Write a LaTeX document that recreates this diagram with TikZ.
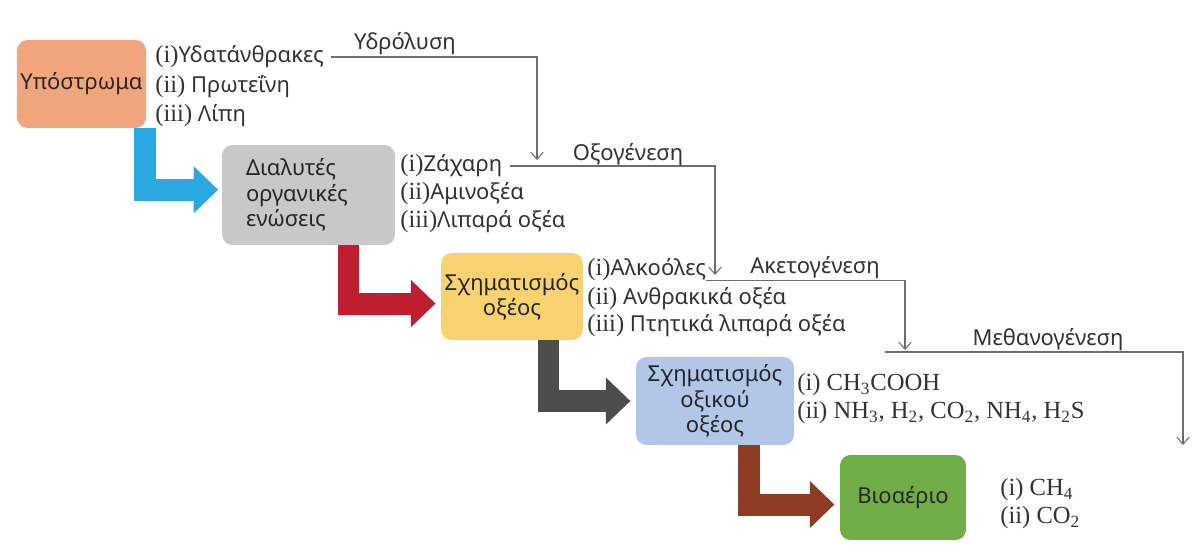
\documentclass[tikz,border=0pt]{standalone}
\usepackage{fontspec}
\setmainfont{Liberation Serif}
\newfontfamily\grf{Noto Sans}
\usetikzlibrary{arrows.meta,calc}
\definecolor{cSub}{RGB}{240,165,125}
\definecolor{cDis}{RGB}{200,200,200}
\definecolor{cAcid}{RGB}{248,210,110}
\definecolor{cAcet}{RGB}{178,198,232}
\definecolor{cBio}{RGB}{112,173,71}
\definecolor{aBlue}{RGB}{41,169,224}
\definecolor{aRed}{RGB}{190,30,45}
\definecolor{aGray}{RGB}{77,77,77}
\definecolor{aBrown}{RGB}{139,60,35}
\definecolor{lineC}{RGB}{110,110,110}
\newcommand\nm[1]{{\rmfamily\fontsize{14}{15}\selectfont(#1)}}
\begin{document}
\begin{tikzpicture}[x=0.02cm,y=-0.02cm,
  font=\grf\fontsize{12.5}{14.5}\selectfont,
  stage/.style={rounded corners=6pt, inner sep=2pt, align=center, text=black!85},
  item/.style={anchor=west, inner sep=0pt, text=black!80},
  chem/.style={item, font=\rmfamily\fontsize{14}{15}\selectfont},
  bigarrow/.style={line width=12.5pt, line join=miter, line cap=butt,
    -{Triangle[width=26pt,length=14pt]}},
  flow/.style={draw=lineC, line width=0.6pt, -{Straight Barb[length=4pt,width=7pt]}},
  lbl/.style={inner sep=0pt, text=black!80}]
\useasboundingbox (0,0) rectangle (1201,555);
\fill[white] (0,0) rectangle (1201,555);

% process stages
\node[stage, fill=cSub, minimum width=2.54cm, minimum height=1.76cm] (sub) at (81.5,84) {Υπόστρωμα};
\node[stage, fill=cDis, text width=2.5cm, inner xsep=0.48cm, minimum height=2.0cm, align=left] (dis) at (308.5,195) {Διαλυτές\\οργανικές\\ενώσεις};
\node[stage, fill=cAcid, minimum width=2.8cm, minimum height=1.74cm] (acid) at (512,296.5) {Σχηματισμός\\οξέος};
\node[stage, fill=cAcet, minimum width=3.16cm, minimum height=1.76cm] (acet) at (715,401) {Σχηματισμός\\οξικού\\οξέος};
\node[stage, fill=cBio, minimum width=2.52cm, minimum height=1.7cm] (bio) at (903,497.5) {Βιοαέριο};

% products of each stage
\node[item] (a1) at (155,57) {\nm{i}Υδατάνθρακες};
\node[item] (a2) at (155,87) {\nm{ii} Πρωτεΐνη};
\node[item] (a3) at (155,116) {\nm{iii} Λίπη};
\node[item] (b1) at (400,166) {\nm{i}Ζάχαρη};
\node[item] (b2) at (400,194) {\nm{ii}Αμινοξέα};
\node[item] (b3) at (400,222) {\nm{iii}Λιπαρά οξέα};
\node[item] (c1) at (587,270) {\nm{i}Αλκοόλες};
\node[item] (c2) at (587,299) {\nm{ii} Ανθρακικά οξέα};
\node[item] (c3) at (587,326) {\nm{iii} Πτητικά λιπαρά οξέα};
\node[chem] (d1) at (797,385) {(i) CH\textsubscript{3}COOH};
\node[chem] (d2) at (797,413) {(ii) NH\textsubscript{3}, H\textsubscript{2}, CO\textsubscript{2}, NH\textsubscript{4}, H\textsubscript{2}S};
\node[chem] (e1) at (1000,490) {(i) CH\textsubscript{4}};
\node[chem] (e2) at (1000,518) {(ii) CO\textsubscript{2}};

% thick stage-to-stage arrows
\coordinate (s1) at (145,128);
\coordinate (s2) at (348.5,245);
\coordinate (s3) at (548.5,340);
\coordinate (s4) at (749,445);
\draw[bigarrow, aBlue] (s1) |- ([xshift=-2pt,yshift=3pt]dis.west);
\draw[bigarrow, aRed] (s2) |- ([xshift=-3pt,yshift=-4pt]acid.west);
\draw[bigarrow, aGray] (s3) |- ([xshift=-3pt]acet.west);
\draw[bigarrow, aBrown] (s4) |- ([xshift=-3pt,yshift=-4pt]bio.west);

% process connectors
\coordinate (h1) at (537,160);
\coordinate (h2) at (715,275);
\coordinate (h3) at (905,350);
\coordinate (m0) at (885,352);
\coordinate (h4) at (1183,445);
\draw[flow] ([xshift=4pt]a1.east) -| (h1);
\draw[flow] ([xshift=4pt]b1.east) -| (h2);
\draw[flow] ([yshift=-6pt]c1.east) -| (h3);
\draw[flow] (m0) -| (h4);
\node[lbl] (l1) at (405,44) {Υδρόλυση};
\node[lbl] (l2) at (628,155) {Οξογένεση};
\node[lbl] (l3) at (815,268) {Ακετογένεση};
\node[lbl] (l4) at (1048,340) {Μεθανογένεση};
\end{tikzpicture}
\end{document}
